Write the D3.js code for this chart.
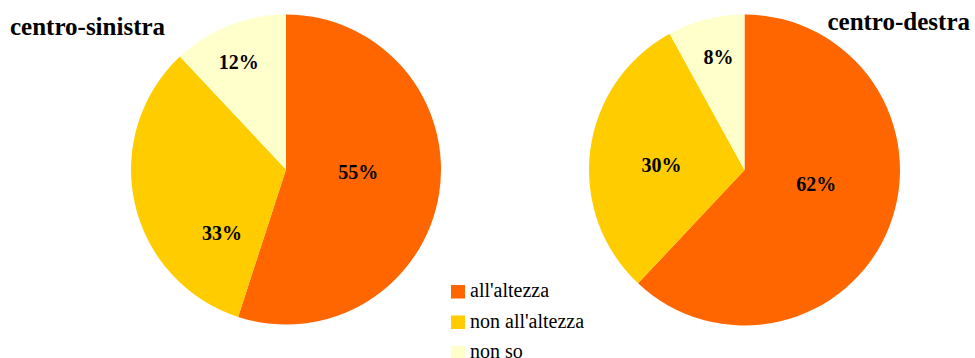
<!DOCTYPE html>
<html>
<head>
<meta charset="utf-8">
<script src="https://cdn.jsdelivr.net/npm/d3@7"></script>
<style>
  html, body { margin: 0; padding: 0; background: #fff; }
  svg { display: block; }
</style>
</head>
<body>
<svg id="chart" width="975" height="358"></svg>
<script>
// Survey answers: is the coalition up to the task?
const categories = ["all'altezza", "non all'altezza", "non so"];
const coalitions = ["centro-sinistra", "centro-destra"];
const centroSinistra = [55, 33, 12];
const centroDestra = [62, 30, 8];
const seriesValues = [centroSinistra, centroDestra];

const colors = ["#FF6600", "#FFCC00", "#FFFFCC"];

const FONT = "'Liberation Serif', 'Times New Roman', Times, serif";

// Layout for each pie: centre, radius, title anchor
const pies = [
  { cx: 286, cy: 169.5, r: 155, title: { x: 10, y: 35, anchor: "start" },
    // label placement: angle shift from slice middle (deg), distance as radius fraction
    labels: [[-7, 0.466], [-32, 0.58], [-2, 0.76]] },
  { cx: 744.5, cy: 170, r: 155.5, title: { x: 970, y: 30, anchor: "end" },
    labels: [[-10.6, 0.47], [-4, 0.535], [1.4, 0.745]] }
];

const svg = d3.select("#chart");
const color = d3.scaleOrdinal().domain(categories).range(colors);

const pie = d3.pie().sort(null).value(d => d.value);

pies.forEach((p, i) => {
  const data = categories.map((c, j) => ({ category: c, value: seriesValues[i][j] }));
  const arcs = pie(data);
  const arc = d3.arc().innerRadius(0).outerRadius(p.r);

  const g = svg.append("g").attr("transform", `translate(${p.cx},${p.cy})`);

  g.selectAll("path")
    .data(arcs)
    .join("path")
    .attr("d", arc)
    .attr("fill", d => color(d.data.category));

  g.selectAll("text")
    .data(arcs)
    .join("text")
    .attr("transform", (d, j) => {
      const [shift, frac] = p.labels[j];
      const a = (d.startAngle + d.endAngle) / 2 + shift * Math.PI / 180;
      const rr = frac * p.r;
      return `translate(${rr * Math.sin(a)},${-rr * Math.cos(a)})`;
    })
    .attr("text-anchor", "middle")
    .attr("dy", "0.35em")
    .style("font-family", FONT)
    .style("font-size", "20px")
    .style("font-weight", "bold")
    .style("fill", "#000")
    .text(d => d.data.value + "%");

  svg.append("text")
    .attr("x", p.title.x)
    .attr("y", p.title.y)
    .attr("text-anchor", p.title.anchor)
    .style("font-family", FONT)
    .style("font-size", "25px")
    .style("font-weight", "bold")
    .style("fill", "#000")
    .text(coalitions[i]);
});

// Legend
const legend = svg.append("g").attr("transform", "translate(451,285)");
const rowH = 30.5;
const items = legend.selectAll("g")
  .data(categories)
  .join("g")
  .attr("transform", (d, j) => `translate(0,${j * rowH})`);

items.append("rect")
  .attr("width", 14)
  .attr("height", 13.5)
  .attr("fill", d => color(d));

items.append("text")
  .attr("x", 19)
  .attr("y", 12)
  .style("font-family", FONT)
  .style("font-size", "20px")
  .style("fill", "#000")
  .text(d => d);
</script>
</body>
</html>
